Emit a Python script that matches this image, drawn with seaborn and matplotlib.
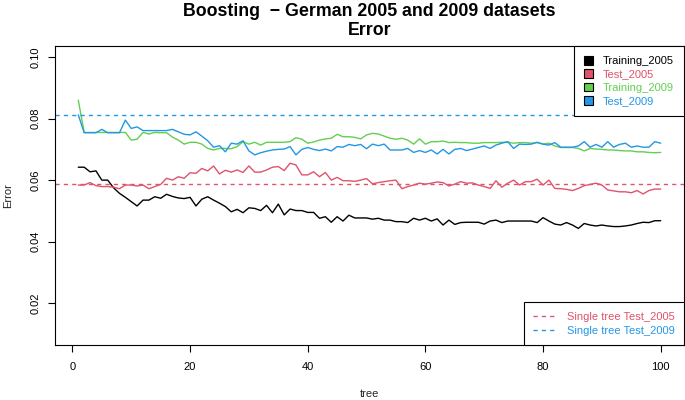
import numpy as np
import pandas as pd
import matplotlib
matplotlib.use("Agg")
import matplotlib.pyplot as plt
import seaborn as sns
from matplotlib.patches import Patch
from matplotlib.lines import Line2D

# Dados (erro por número de árvores)
trees = list(range(1, 101))

training_2005 = [
    0.0642, 0.0642, 0.0627, 0.0630, 0.0600, 0.0600, 0.0575, 0.0557, 0.0544, 0.0530,
    0.0516, 0.0535, 0.0535, 0.0546, 0.0541, 0.0554, 0.0547, 0.0542, 0.0540, 0.0544,
    0.0516, 0.0538, 0.0546, 0.0535, 0.0525, 0.0514, 0.0497, 0.0505, 0.0494, 0.0510,
    0.0508, 0.0501, 0.0518, 0.0494, 0.0522, 0.0487, 0.0506, 0.0501, 0.0501, 0.0495,
    0.0495, 0.0476, 0.0481, 0.0463, 0.0481, 0.0467, 0.0486, 0.0477, 0.0477, 0.0477,
    0.0473, 0.0476, 0.0470, 0.0470, 0.0465, 0.0465, 0.0462, 0.0476, 0.0470, 0.0476,
    0.0467, 0.0474, 0.0454, 0.0470, 0.0456, 0.0462, 0.0463, 0.0463, 0.0463, 0.0457,
    0.0467, 0.0470, 0.0462, 0.0467, 0.0467, 0.0467, 0.0467, 0.0467, 0.0462, 0.0478,
    0.0467, 0.0457, 0.0454, 0.0462, 0.0454, 0.0443, 0.0459, 0.0454, 0.0451, 0.0454,
    0.0451, 0.0449, 0.0449, 0.0451, 0.0454, 0.0459, 0.0463, 0.0462, 0.0468, 0.0468,
]

test_2005 = [
    0.0584, 0.0584, 0.0592, 0.0582, 0.0579, 0.0579, 0.0577, 0.0572, 0.0584, 0.0584,
    0.0581, 0.0584, 0.0572, 0.0579, 0.0586, 0.0606, 0.0600, 0.0611, 0.0606, 0.0624,
    0.0622, 0.0638, 0.0630, 0.0646, 0.0620, 0.0632, 0.0626, 0.0633, 0.0625, 0.0646,
    0.0626, 0.0626, 0.0633, 0.0642, 0.0644, 0.0631, 0.0655, 0.0649, 0.0617, 0.0617,
    0.0627, 0.0611, 0.0625, 0.0600, 0.0609, 0.0598, 0.0598, 0.0596, 0.0600, 0.0605,
    0.0588, 0.0592, 0.0595, 0.0598, 0.0600, 0.0572, 0.0579, 0.0584, 0.0590, 0.0587,
    0.0590, 0.0594, 0.0592, 0.0581, 0.0587, 0.0595, 0.0590, 0.0591, 0.0584, 0.0579,
    0.0573, 0.0598, 0.0577, 0.0590, 0.0600, 0.0584, 0.0595, 0.0595, 0.0603, 0.0584,
    0.0600, 0.0573, 0.0572, 0.0570, 0.0566, 0.0573, 0.0582, 0.0586, 0.0590, 0.0584,
    0.0568, 0.0565, 0.0562, 0.0562, 0.0559, 0.0566, 0.0555, 0.0566, 0.0571, 0.0571,
]

training_2009 = [
    0.0860, 0.0755, 0.0755, 0.0755, 0.0755, 0.0755, 0.0755, 0.0755, 0.0755, 0.0730,
    0.0733, 0.0755, 0.0750, 0.0755, 0.0754, 0.0754, 0.0740, 0.0730, 0.0717, 0.0723,
    0.0723, 0.0717, 0.0703, 0.0698, 0.0703, 0.0703, 0.0702, 0.0709, 0.0725, 0.0717,
    0.0723, 0.0714, 0.0723, 0.0723, 0.0723, 0.0723, 0.0725, 0.0738, 0.0733, 0.0720,
    0.0724, 0.0730, 0.0734, 0.0736, 0.0749, 0.0741, 0.0741, 0.0739, 0.0734, 0.0747,
    0.0752, 0.0750, 0.0743, 0.0736, 0.0733, 0.0736, 0.0730, 0.0717, 0.0734, 0.0717,
    0.0725, 0.0725, 0.0727, 0.0722, 0.0723, 0.0722, 0.0722, 0.0720, 0.0720, 0.0722,
    0.0722, 0.0722, 0.0723, 0.0723, 0.0720, 0.0722, 0.0722, 0.0720, 0.0722, 0.0717,
    0.0720, 0.0711, 0.0706, 0.0706, 0.0706, 0.0703, 0.0695, 0.0703, 0.0701, 0.0700,
    0.0698, 0.0698, 0.0696, 0.0695, 0.0695, 0.0692, 0.0692, 0.0690, 0.0689, 0.0690,
]

test_2009 = [
    0.0812, 0.0754, 0.0754, 0.0754, 0.0765, 0.0754, 0.0754, 0.0754, 0.0795, 0.0768,
    0.0773, 0.0761, 0.0761, 0.0761, 0.0761, 0.0761, 0.0765, 0.0757, 0.0749, 0.0747,
    0.0757, 0.0743, 0.0728, 0.0707, 0.0712, 0.0692, 0.0720, 0.0717, 0.0728, 0.0695,
    0.0682, 0.0689, 0.0694, 0.0698, 0.0700, 0.0701, 0.0709, 0.0682, 0.0700, 0.0706,
    0.0700, 0.0696, 0.0701, 0.0695, 0.0709, 0.0707, 0.0716, 0.0712, 0.0716, 0.0702,
    0.0717, 0.0712, 0.0717, 0.0698, 0.0698, 0.0698, 0.0703, 0.0690, 0.0696, 0.0690,
    0.0698, 0.0685, 0.0700, 0.0685, 0.0700, 0.0703, 0.0696, 0.0701, 0.0706, 0.0711,
    0.0703, 0.0714, 0.0720, 0.0725, 0.0703, 0.0717, 0.0716, 0.0717, 0.0723, 0.0717,
    0.0714, 0.0722, 0.0707, 0.0707, 0.0707, 0.0711, 0.0725, 0.0707, 0.0716, 0.0707,
    0.0725, 0.0707, 0.0716, 0.0720, 0.0707, 0.0711, 0.0707, 0.0707, 0.0725, 0.0720,
]

single_tree_2005 = 0.0587
single_tree_2009 = 0.0811

series_names = ["Training_2005", "Test_2005", "Training_2009", "Test_2009"]
series_colors = ["#000000", "#DF536B", "#61D04F", "#2297E6"]
single_names = ["Single tree Test_2005", "Single tree Test_2009"]
single_colors = ["#DF536B", "#2297E6"]

x_ticks = [0, 20, 40, 60, 80, 100]
y_ticks = [0.02, 0.04, 0.06, 0.08, 0.10]

sns.set_theme(style="ticks")
plt.rcParams.update({
    "font.family": ["Liberation Sans", "DejaVu Sans"],
    "axes.edgecolor": "black",
    "axes.linewidth": 0.8,
    "xtick.color": "black",
    "ytick.color": "black",
    "text.color": "black",
})

df = pd.DataFrame({
    "tree": trees,
    "Training_2005": training_2005,
    "Test_2005": test_2005,
    "Training_2009": training_2009,
    "Test_2009": test_2009,
})
long = df.melt(id_vars="tree", var_name="series", value_name="Error")

fig = plt.figure(figsize=(6.85, 4.0), dpi=100)
ax = fig.add_axes([55 / 685, 55 / 400, 629 / 685, 299 / 400])

sns.lineplot(
    data=long, x="tree", y="Error", hue="series",
    hue_order=series_names, palette=series_colors,
    linewidth=1.0, legend=False, ax=ax,
)
for val, col in zip([single_tree_2005, single_tree_2009], single_colors):
    ax.axhline(val, color=col, lw=1.0, ls=(0, (3, 3)))

ax.set_xlim(-2.96, 103.96)
ax.set_ylim(0.0064, 0.1036)
ax.set_xticks(x_ticks)
ax.set_xticklabels([str(t) for t in x_ticks])
ax.set_yticks(y_ticks)
ax.set_yticklabels([f"{t:.2f}" for t in y_ticks], rotation=90, va="center")
ax.tick_params(axis="both", direction="out", length=5, width=0.8,
               labelsize=8, pad=5)
ax.tick_params(axis="x", pad=7)
for s in ax.spines.values():
    s.set_visible(True)
    s.set_color("black")

ax.set_xlabel("tree", fontsize=8)
ax.set_ylabel("Error", fontsize=8)
ax.xaxis.set_label_coords(0.5, -0.163)
ax.yaxis.set_label_coords(-0.075, 0.5)
ax.xaxis.label.set_va("center")
ax.yaxis.label.set_va("center")

ax.set_title("Boosting  \u2212 German 2005 and 2009 datasets\nError",
             fontsize=12.8, fontweight="bold", linespacing=1.15, pad=8)

# Legenda das séries
handles1 = [Patch(facecolor=c, edgecolor="black", lw=0.8) for c in series_colors]
leg1 = ax.legend(
    handles1, series_names, loc="upper right", bbox_to_anchor=(1, 1),
    borderaxespad=0, fontsize=8, frameon=True, fancybox=False,
    edgecolor="black", framealpha=1, handlelength=0.8, handleheight=0.8,
    handletextpad=0.9, labelspacing=0.3, borderpad=0.9,
    labelcolor=series_colors,
)
leg1.get_frame().set_linewidth(0.8)
ax.add_artist(leg1)

# Legenda das árvores simples
handles2 = [Line2D([], [], color=c, lw=1.0, ls=(0, (3, 3))) for c in single_colors]
leg2 = ax.legend(
    handles2, single_names, loc="lower right", bbox_to_anchor=(1, 0),
    borderaxespad=0, fontsize=8, frameon=True, fancybox=False,
    edgecolor="black", framealpha=1, handlelength=2.0,
    handletextpad=1.0, labelspacing=0.35, borderpad=0.85,
    labelcolor=single_colors,
)
leg2.get_frame().set_linewidth(0.8)

fig.savefig("out.png", dpi=100)
